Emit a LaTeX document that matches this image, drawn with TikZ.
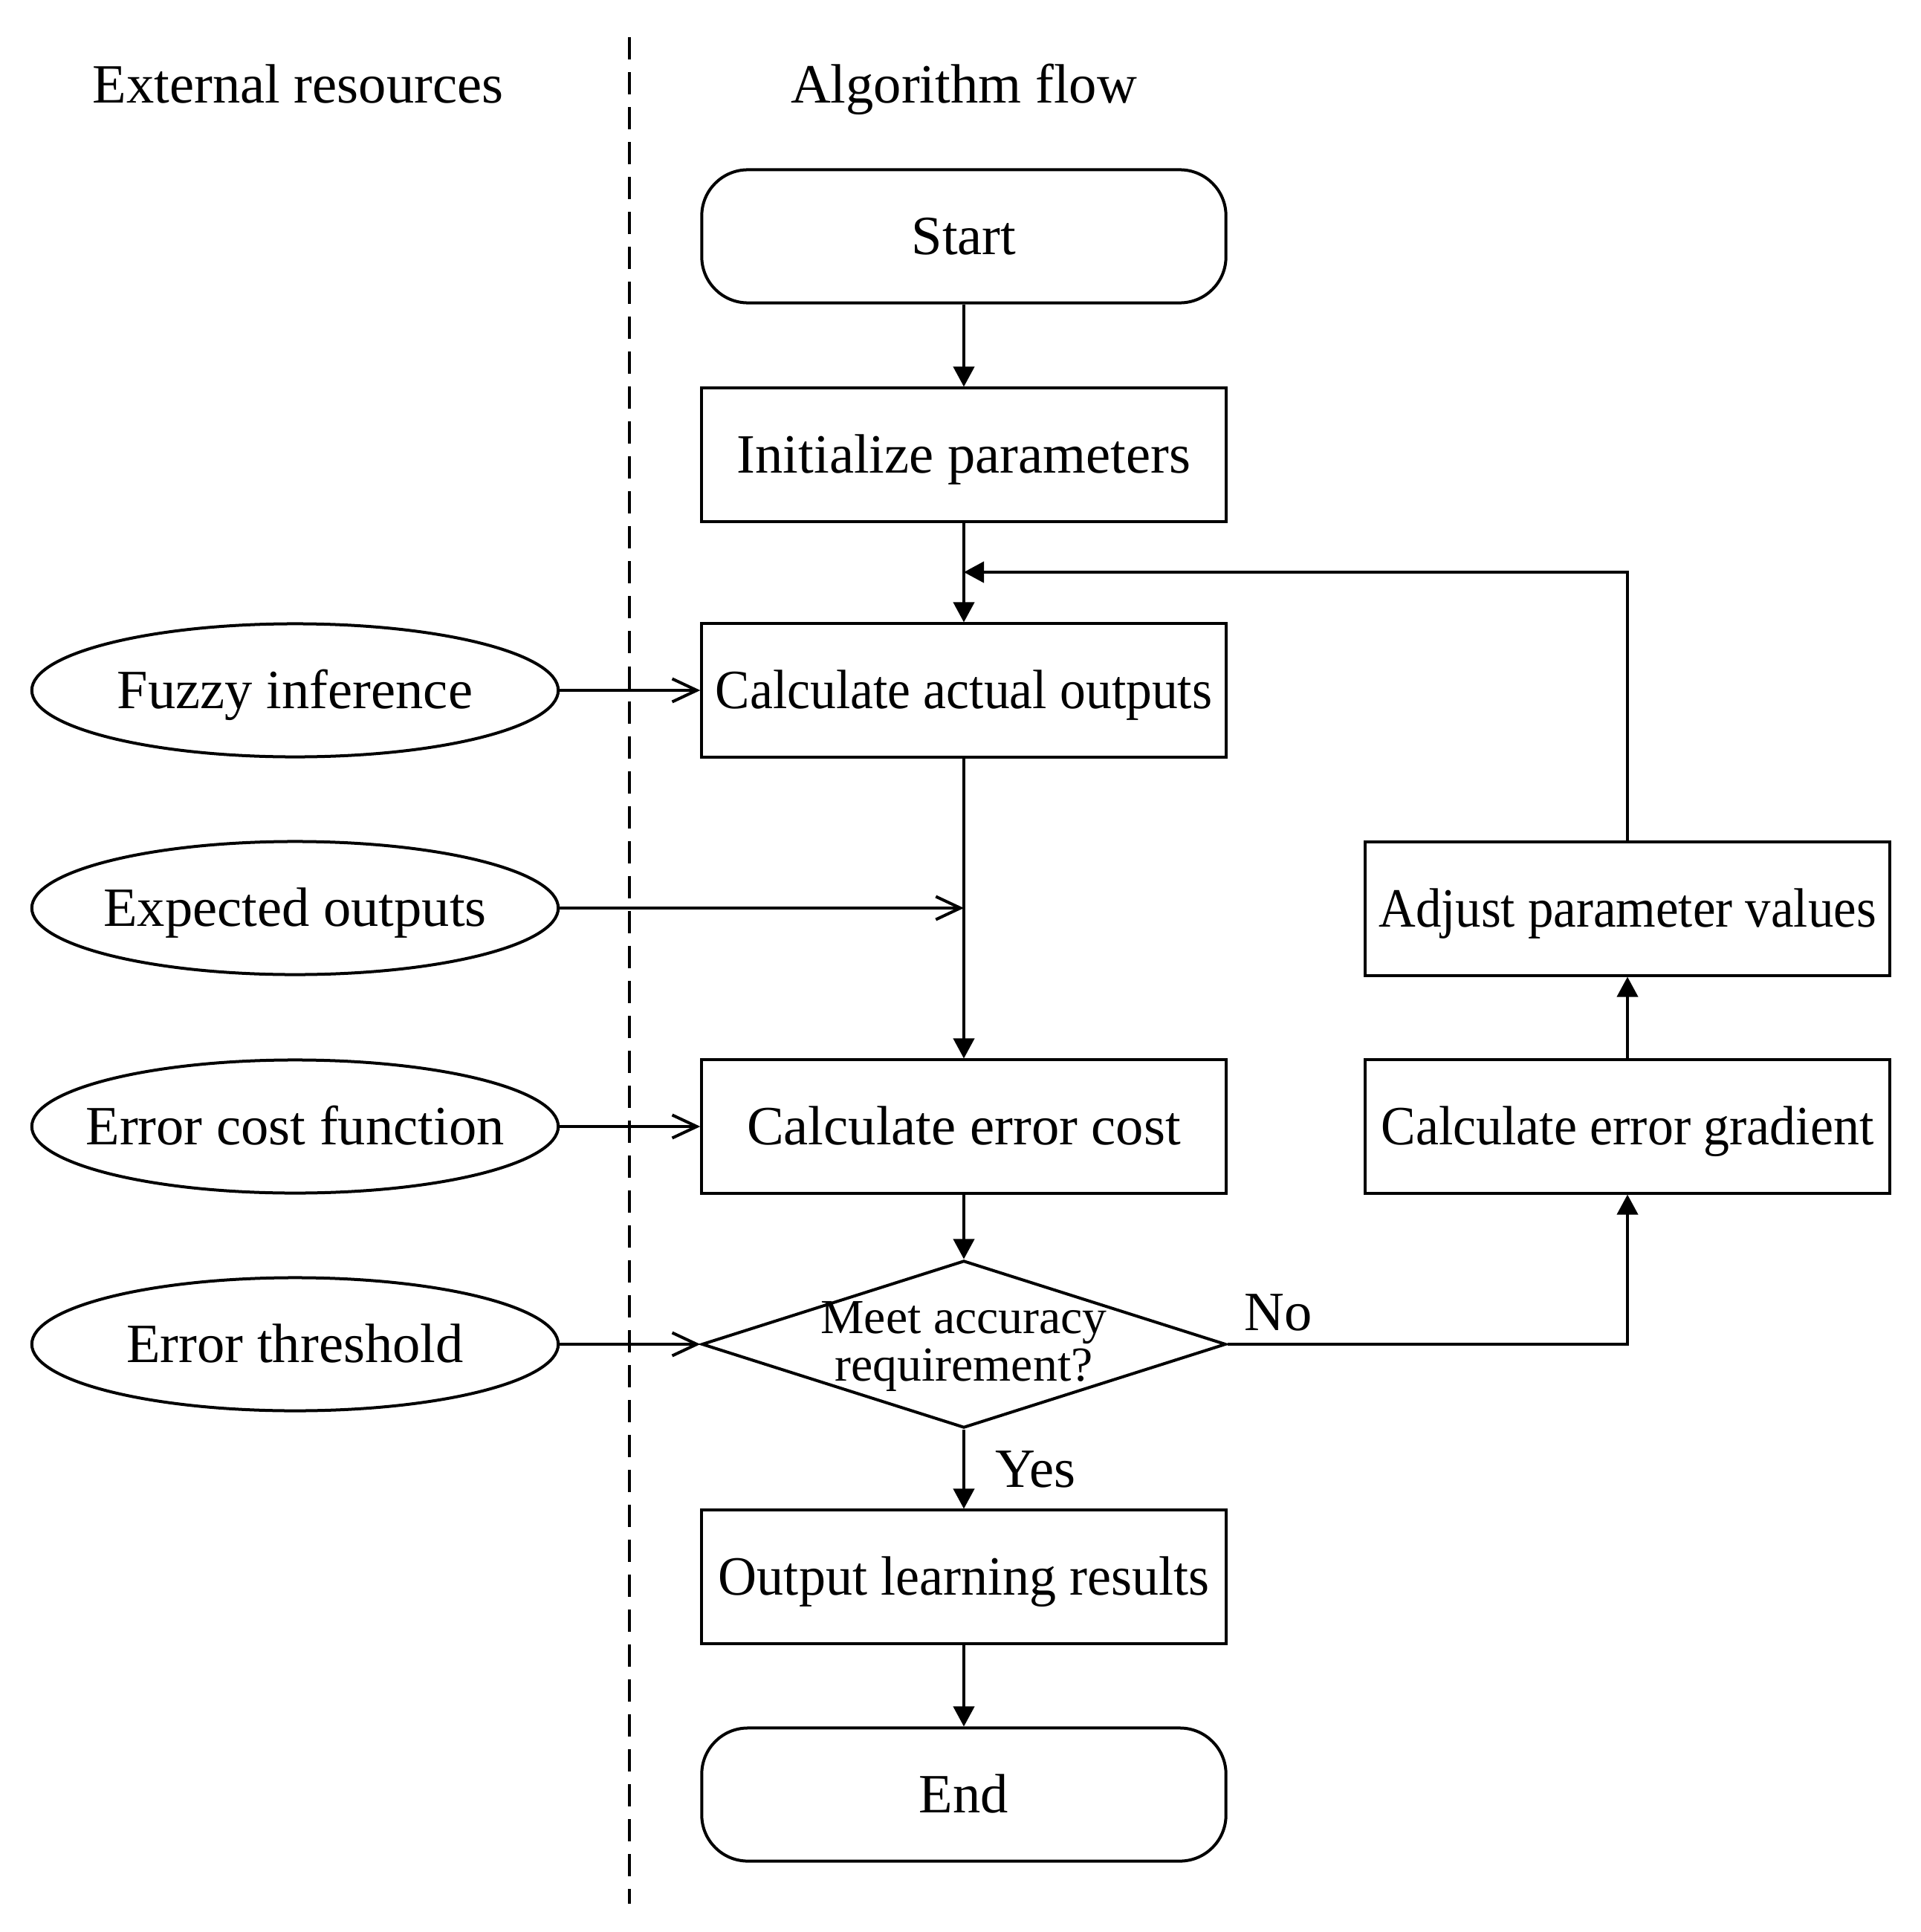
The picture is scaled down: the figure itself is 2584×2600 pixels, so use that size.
\documentclass[tikz,border=0pt]{standalone}
\usepackage{fontspec}
\setmainfont{Liberation Serif}
\usetikzlibrary{shapes.geometric,arrows.meta}
\newcommand{\squeeze}[2]{\scalebox{#1}[1]{#2}}
\begin{document}
\begin{tikzpicture}[x=0.01cm,y=-0.01cm,
  every node/.style={font=\fontsize{21.2}{25}\selectfont},
  line/.style={line width=0.04cm},
  proc/.style={draw,line width=0.04cm,minimum width=7.05cm,minimum height=1.79cm,inner sep=0pt,text height=14pt,text depth=0pt},
  term/.style={proc,rounded corners=0.62cm},
  res/.style={draw,ellipse,line width=0.04cm,minimum width=7.08cm,minimum height=1.79cm,inner sep=0pt,text height=14pt,text depth=0pt},
  decision/.style={draw,diamond,line width=0.04cm,minimum width=7.05cm,minimum height=2.25cm,inner sep=0pt},
  farrow/.style={line,-{Triangle[length=0.27cm,width=0.28cm]}},
  oarrow/.style={line,-{Straight Barb[length=0.33cm,width=0.31cm]}},
  lbl/.style={inner sep=0pt}
]
\useasboundingbox (0,0) rectangle (2584,2600);

% headers and separator
\node[lbl,anchor=base] (hext) at (401,139) {External resources};
\node[lbl,anchor=base] (halg) at (1297,139) {Algorithm flow};
\coordinate (sepTop) at (847,50);
\coordinate (sepBot) at (847,2562);
\draw[line,dash pattern=on 0.3cm off 0.17cm] (sepTop) -- (sepBot);

% flow column
\node[term] (start) at (1297,318) {Start};
\node[proc] (init) at (1297,612) {Initialize parameters};
\node[proc] (actual) at (1297,929) {\squeeze{0.933}{Calculate actual outputs}};
\node[proc] (cost) at (1297,1516) {Calculate error cost};
\node[decision] (dec) at (1297,1809) {};
\node[align=center,inner sep=0pt,font=\fontsize{18.7}{18}\selectfont] (dectext) at (1297,1812) {Meet accuracy\\requirement?};
\node[proc] (output) at (1297,2122) {\squeeze{0.966}{Output learning results}};
\node[term] (end) at (1297,2415) {End};

% right column
\node[proc] (adjust) at (2190,1223) {\squeeze{0.924}{Adjust parameter values}};
\node[proc] (grad) at (2190,1516) {\squeeze{0.936}{Calculate error gradient}};

% resources
\node[res] (fuzzy) at (397,929) {\makebox[0pt]{Fuzzy inference}};
\node[res] (expected) at (397,1222) {\makebox[0pt]{Expected outputs}};
\node[res] (costfn) at (397,1516) {\makebox[0pt]{Error cost function}};
\node[res] (thresh) at (397,1809) {\makebox[0pt]{Error threshold}};

% coordinates
\coordinate (fb) at (1297,770);
\coordinate (fbcorner) at (2190,770);
\coordinate (eo) at (1297,1222);
\coordinate (nocorner) at (2190,1809);

% main flow
\draw[farrow] (start) -- (init);
\draw[farrow] (init) -- (actual);
\draw[farrow] (actual) -- (cost);
\draw[farrow] (cost) -- (dec.north);
\draw[farrow] (dec.south) -- node[lbl,right=0.4cm,pos=0.5] (yes) {Yes} (output);
\draw[farrow] (output) -- (end);

% loop
\draw[farrow] (dec.east) -- (nocorner) -- (grad.south);
\node[lbl] (no) at (1720,1766) {No};
\draw[farrow] (grad) -- (adjust);
\draw[farrow] (adjust.north) -- (fbcorner) -- (fb);

% resources in
\draw[oarrow] (fuzzy.east) -- (actual.west);
\draw[oarrow] (expected.east) -- (eo);
\draw[oarrow] (costfn.east) -- (cost.west);
\draw[oarrow] (thresh.east) -- (dec.west);
\end{tikzpicture}
\end{document}
